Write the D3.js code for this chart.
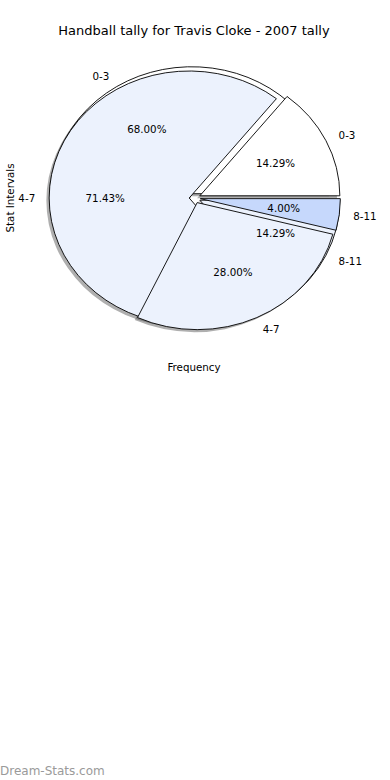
<!DOCTYPE html>
<html>
<head>
<meta charset="utf-8">
<script src="https://cdn.jsdelivr.net/npm/d3@7"></script>
<style>
  html, body { margin: 0; padding: 0; background: #fff; }
  svg { display: block; font-family: "DejaVu Sans", sans-serif; }
</style>
</head>
<body>
<svg id="chart" width="390" height="780"></svg>
<script>
// ---- data ----
const categories = ["0-3", "4-7", "8-11"];
const tallyCounts = [17, 7, 1];        // 68.00%, 28.00%, 4.00%
const frequencyCounts = [1, 5, 1];     // 14.29%, 71.43%, 14.29%
const tallyColors = ["#ffffff", "#ecf2fd", "#c6d8fc"];
const frequencyColors = ["#ffffff", "#ecf2fd", "#ecf2fd"];
const titleText = "Handball tally for Travis Cloke - 2007 tally";
const xLabel = "Frequency";
const yLabel = "Stat Intervals";

// ---- layout ----
const cx = 194.8, cy = 198, rx = 140, ry = 127;
const explode = 0.04, pctDist = 0.6, labelDist = 1.1;

const svg = d3.select("#chart");

const pie = d3.pie().sort(null)
  .startAngle(Math.PI / 2)
  .endAngle(Math.PI / 2 - 2 * Math.PI);

const arcsA = pie(tallyCounts).map((d, i) => ({...d, pie: "A", i, color: tallyColors[i]}));
const arcsB = pie(frequencyCounts).map((d, i) => ({...d, pie: "B", i, color: frequencyColors[i]}));

const unitArc = d3.arc().innerRadius(0).outerRadius(1);
const mid = d => (d.startAngle + d.endAngle) / 2;
const offX = d => Math.sin(mid(d)) * explode;
const offY = d => -Math.cos(mid(d)) * explode;

const g = svg.append("g").attr("transform", `translate(${cx},${cy}) scale(${rx},${ry})`);

// draw order to reproduce overlapping
const order = [arcsA[0], arcsB[1], arcsB[2], arcsA[1], arcsA[2], arcsB[0]];

// shadows
g.append("g").selectAll("path").data(order).join("path")
  .attr("d", unitArc)
  .attr("transform", d => `translate(${offX(d) - 0.02},${offY(d) + 0.02})`)
  .attr("fill", "#4d4d4d")
  .attr("fill-opacity", 0.45);

// wedges
g.append("g").selectAll("path").data(order).join("path")
  .attr("d", unitArc)
  .attr("transform", d => `translate(${offX(d)},${offY(d)})`)
  .attr("fill", d => d.color)
  .attr("stroke", "#000")
  .attr("stroke-width", 0.9)
  .attr("stroke-linejoin", "miter")
  .attr("vector-effect", "non-scaling-stroke");

// percentage labels & category labels
const all = arcsA.concat(arcsB);
const total = arr => d3.sum(arr);
const pos = (d, dist) => {
  const a = mid(d);
  return [cx + rx * (Math.sin(a) * dist + offX(d)), cy + ry * (-Math.cos(a) * dist + offY(d))];
};

svg.append("g").selectAll("text").data(all).join("text")
  .attr("x", d => pos(d, pctDist)[0])
  .attr("y", d => pos(d, pctDist)[1])
  .attr("text-anchor", "middle")
  .attr("dominant-baseline", "central")
  .attr("font-size", 10.3)
  .text(d => (100 * d.value / total(d.pie === "A" ? tallyCounts : frequencyCounts)).toFixed(2) + "%");

svg.append("g").selectAll("text").data(all).join("text")
  .attr("x", d => pos(d, labelDist)[0])
  .attr("y", d => pos(d, labelDist)[1])
  .attr("text-anchor", d => Math.sin(mid(d)) < 0 ? "end" : "start")
  .attr("dominant-baseline", "central")
  .attr("font-size", 10.3)
  .text(d => categories[d.i]);

// title and axis labels
svg.append("text").attr("x", 194).attr("y", 30)
  .attr("text-anchor", "middle").attr("dominant-baseline", "central")
  .attr("font-size", 13).text(titleText);

svg.append("text").attr("x", 194).attr("y", 367)
  .attr("text-anchor", "middle").attr("dominant-baseline", "central")
  .attr("font-size", 10.3).text(xLabel);

svg.append("text").attr("transform", "translate(10,198) rotate(-90)")
  .attr("text-anchor", "middle").attr("dominant-baseline", "central")
  .attr("font-size", 10.3).text(yLabel);

// watermark
svg.append("text").attr("x", 0).attr("y", 775)
  .attr("font-size", 12)
  .attr("fill", "#9a9a9a")
  .text("Dream-Stats.com");
</script>
</body>
</html>
